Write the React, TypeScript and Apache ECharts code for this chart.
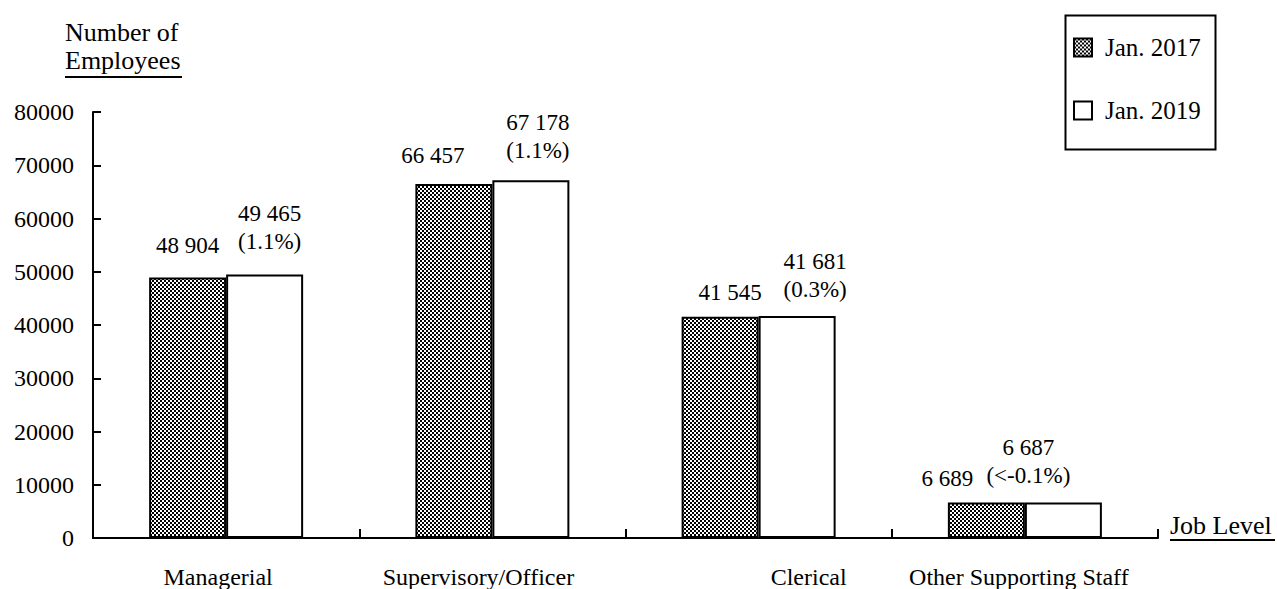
import React, { useEffect, useRef } from "react";
import * as echarts from "echarts";

const categories = ["Managerial", "Supervisory/Officer", "Clerical", "Other Supporting Staff"];
const seriesNames = ["Jan. 2017", "Jan. 2019"];
const jan2017 = [48904, 66457, 41545, 6689];
const jan2019 = [49465, 67178, 41681, 6687];
const changes = ["1.1%", "1.1%", "0.3%", "<-0.1%"];
const yMin = 0;
const yMax = 80000;
const yInterval = 10000;
const yAxisTitle = ["Number of", "Employees"];
const xAxisTitle = "Job Level";

// label nudges (style only)
const offsets2017 = [[0, -16], [-21, -12], [10, -8], [-39, -7]];
const offsets2019 = [[5, -14], [7, -11], [18, -8], [-35, -8]];
const catLabelShift = [-8, -14, 50, -6];

const FONT = '"Liberation Serif", "Times New Roman", serif';

const fmt = (v: number) => String(v).replace(/\B(?=(\d{3})+(?!\d))/g, " ");

function makePattern() {
  const c = document.createElement("canvas");
  c.width = 4;
  c.height = 4;
  const ctx = c.getContext("2d")!;
  ctx.fillStyle = "#ffffff";
  ctx.fillRect(0, 0, 4, 4);
  ctx.fillStyle = "#000000";
  ctx.fillRect(0, 0, 2, 2);
  ctx.fillRect(2, 2, 2, 2);
  return { image: c, repeat: "repeat" } as any;
}

export default function App() {
  const ref = useRef<HTMLDivElement>(null);
  useEffect(() => {
    if (!ref.current) return;
    const chart = echarts.init(ref.current, undefined, { renderer: "svg" });
    const pattern = makePattern();
    const option: any = {
      animation: false,
      textStyle: { fontFamily: FONT, color: "#000" },
      grid: { left: 93, right: 119, top: 112, bottom: 51, containLabel: false },
      legend: {
        left: 1073,
        top: 35,
        orient: "vertical",
        icon: "rect",
        itemWidth: 18,
        itemHeight: 18,
        itemGap: 38,
        padding: 0,
        data: seriesNames,
        textStyle: { fontFamily: FONT, fontSize: 25, color: "#000", padding: [0, 0, 0, 8] },
      },
      xAxis: {
        type: "category",
        data: categories.map((c, i) => ({
          value: c,
          textStyle: { padding: catLabelShift[i] > 0 ? [0, 0, 0, 2 * catLabelShift[i]] : [0, -2 * catLabelShift[i], 0, 0] },
        })),
        boundaryGap: true,
        name: xAxisTitle,
        nameLocation: "end",
        nameGap: 12,
        nameTextStyle: { fontFamily: FONT, fontSize: 26, lineHeight: 26, color: "#000", align: "left", verticalAlign: "bottom" },
        axisLine: { show: true, lineStyle: { color: "#000", width: 2 } },
        axisTick: { show: true, inside: true, length: 9, lineStyle: { color: "#000", width: 2 }, alignWithLabel: false },
        axisLabel: { fontFamily: FONT, fontSize: 24, color: "#000", margin: 27, interval: 0 },
        splitLine: { show: false },
      },
      yAxis: {
        type: "value",
        min: yMin,
        max: yMax,
        interval: yInterval,
        axisLine: { show: true, lineStyle: { color: "#000", width: 2 } },
        axisTick: { show: true, inside: true, length: 8, lineStyle: { color: "#000", width: 2 } },
        axisLabel: { fontFamily: FONT, fontSize: 24, color: "#000", margin: 19, formatter: (v: number) => String(v) },
        splitLine: { show: false },
      },
      series: [
        {
          name: seriesNames[0],
          type: "bar",
          barWidth: 77,
          barGap: "0%",
          itemStyle: { color: pattern, borderColor: "#000", borderWidth: 2 },
          data: jan2017.map((v, i) => ({ value: v, label: { offset: offsets2017[i] } })),
          label: {
            show: true,
            position: "top",
            distance: 5,
            fontFamily: FONT,
            fontSize: 23,
            color: "#000",
            formatter: (p: any) => fmt(p.value),
          },
        },
        {
          name: seriesNames[1],
          type: "bar",
          barWidth: 77,
          barGap: "0%",
          itemStyle: { color: "#fff", borderColor: "#000", borderWidth: 2 },
          data: jan2019.map((v, i) => ({ value: v, label: { offset: offsets2019[i] } })),
          label: {
            show: true,
            position: "top",
            distance: 5,
            fontFamily: FONT,
            fontSize: 23,
            lineHeight: 28,
            color: "#000",
            formatter: (p: any) => fmt(p.value) + "\n(" + changes[p.dataIndex] + ")",
          },
        },
      ],
      graphic: [
        {
          type: "rect",
          left: 1063,
          top: 13,
          shape: { width: 150, height: 134 },
          style: { fill: "none", stroke: "#000", lineWidth: 2 },
          silent: true,
        },
        {
          type: "text",
          x: 65,
          y: 32,
          style: { text: yAxisTitle[0], fontFamily: FONT, fontSize: 26, fill: "#000", verticalAlign: "middle", align: "left" },
        },
        {
          type: "text",
          x: 65,
          y: 60,
          style: { text: yAxisTitle[1], fontFamily: FONT, fontSize: 26, fill: "#000", verticalAlign: "middle", align: "left" },
        },
        {
          type: "line",
          shape: { x1: 65, y1: 77, x2: 182, y2: 77 },
          style: { stroke: "#000", lineWidth: 2 },
        },
        {
          type: "line",
          shape: { x1: 1170, y1: 540, x2: 1275, y2: 540 },
          style: { stroke: "#000", lineWidth: 2 },
        },
      ],
    };
    chart.setOption(option);
    return () => chart.dispose();
  }, []);
  return <div ref={ref} style={{ position: "absolute", left: 0, top: 0, width: 1277, height: 589 }} />;
}
